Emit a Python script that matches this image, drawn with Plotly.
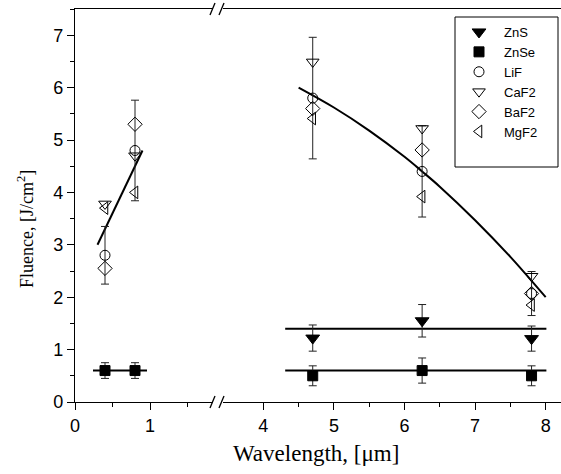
import plotly.graph_objects as go

# ---- data ----
wl_vis = [0.4, 0.8]
wl_ir = [4.7, 6.25, 7.8]

zns_ir = [1.22, 1.55, 1.21]
zns_ir_err = [0.25, 0.31, 0.24]

znse_vis = [0.6, 0.6]
znse_vis_err = [0.15, 0.15]
znse_ir = [0.5, 0.6, 0.5]
znse_ir_err = [0.19, 0.24, 0.19]

lif_vis = [2.8, 4.8]
lif_vis_err = [0.55, 0.96]
lif_ir = [5.8, 4.4, 2.07]
lif_ir_err = [1.16, 0.87, 0.42]

caf2_vis = [3.78, 4.7]
caf2_ir = [6.49, 5.22, 2.40]

baf2_vis = [2.55, 5.3]
baf2_ir = [5.6, 4.81, 2.07]

mgf2_vis = [3.7, 4.0]
mgf2_ir = [5.41, 3.92, 1.85]

# fit lines
fit_vis_x = [0.3, 0.9]
fit_vis_y = [3.0, 4.8]
fit_ir_x = [4.5, 5.0, 5.5, 6.0, 6.25, 6.5, 7.0, 7.5, 8.0]
fit_ir_y = [6.0, 5.62, 5.18, 4.68, 4.4, 4.11, 3.47, 2.77, 2.0]
znse_fit_vis_x = [0.24, 0.96]
znse_fit_vis_y = [0.6, 0.6]
znse_fit_ir_x = [4.31, 8.01]
znse_fit_ir_y = [0.6, 0.6]
zns_fit_ir_x = [4.31, 8.01]
zns_fit_ir_y = [1.4, 1.4]

x_vis_ticks = [0, 1]
x_vis_minor = [0.5, 1.5]
x_ir_ticks = [4, 5, 6, 7, 8]
x_ir_minor = [4.5, 5.5, 6.5, 7.5]

fig = go.Figure()

for xs, ys, xa in [(fit_vis_x, fit_vis_y, "x"), (znse_fit_vis_x, znse_fit_vis_y, "x"),
                   (fit_ir_x, fit_ir_y, "x2"), (znse_fit_ir_x, znse_fit_ir_y, "x2"),
                   (zns_fit_ir_x, zns_fit_ir_y, "x2")]:
    fig.add_trace(go.Scatter(x=xs, y=ys, mode="lines", line=dict(color="black", width=2, shape="spline"),
                             xaxis=xa, yaxis="y", showlegend=False, hoverinfo="skip"))

err_style = dict(type="data", color="#222", thickness=1, width=4)


def add_series(name, symbol, size, vis, ir, vis_err=None, ir_err=None, filled=False):
    mk = dict(symbol=symbol, size=size,
              color="black" if filled else "rgba(0,0,0,0)",
              line=dict(color="black", width=1))
    first = True
    if vis is not None:
        fig.add_trace(go.Scatter(
            x=wl_vis, y=vis, mode="markers", name=name, marker=mk, xaxis="x", yaxis="y",
            legendgroup=name, showlegend=first,
            error_y=dict(array=vis_err, **err_style) if vis_err else None))
        first = False
    fig.add_trace(go.Scatter(
        x=wl_ir, y=ir, mode="markers", name=name, marker=mk, xaxis="x2", yaxis="y",
        legendgroup=name, showlegend=first,
        error_y=dict(array=ir_err, **err_style) if ir_err else None))


add_series("ZnS", "triangle-down", 12, None, zns_ir, None, zns_ir_err, filled=True)
add_series("ZnSe", "square", 10, znse_vis, znse_ir, znse_vis_err, znse_ir_err, filled=True)
add_series("LiF", "circle", 10, lif_vis, lif_ir, lif_vis_err, lif_ir_err)
add_series("CaF2", "triangle-down", 11, caf2_vis, caf2_ir)
add_series("BaF2", "diamond", 11, baf2_vis, baf2_ir)
add_series("MgF2", "triangle-left", 11, mgf2_vis, mgf2_ir)

tickfont = dict(family="Liberation Sans, Arial", size=18, color="black")
axis_common = dict(showline=True, linecolor="black", linewidth=1.3, mirror=True,
                   ticks="outside", ticklen=7, tickwidth=1.2, tickcolor="black",
                   showgrid=False, zeroline=False, tickfont=tickfont, automargin=False)
top_common = dict(overlaying=None, side="top", anchor="y", showline=False, ticks="inside",
                  ticklen=4, tickwidth=1, tickcolor="black", showticklabels=False,
                  showgrid=False, zeroline=False, automargin=False)

L0, W = 75, 486
left_end, right_start = 213, 223
dom_left = [0, (left_end - L0) / W]
dom_right = [(right_start - L0) / W, 1]
rng_left = [0, (left_end - L0) / 75.0]
rng_right = [3.429, 8.217]

fig.update_layout(
    width=561, height=474,
    margin=dict(l=L0, r=561 - L0 - W, t=9, b=72),
    plot_bgcolor="white", paper_bgcolor="white",
    xaxis=dict(domain=dom_left, range=rng_left, tickvals=x_vis_ticks, anchor="y",
               minor=dict(tickvals=x_vis_minor, ticks="outside", ticklen=4, tickcolor="black", tickwidth=1),
               **axis_common),
    xaxis2=dict(domain=dom_right, range=rng_right, tickvals=x_ir_ticks, anchor="y",
                minor=dict(tickvals=x_ir_minor, ticks="outside", ticklen=4, tickcolor="black", tickwidth=1),
                **axis_common),
    xaxis3=dict(domain=dom_left, range=rng_left, tickvals=x_vis_ticks + x_vis_minor,
                **{**top_common, "overlaying": "x"}),
    xaxis4=dict(domain=dom_right, range=rng_right, tickvals=x_ir_ticks + x_ir_minor,
                **{**top_common, "overlaying": "x2"}),
    yaxis=dict(range=[0, 7.5], dtick=1, tick0=0,
               minor=dict(dtick=0.5, ticks="outside", ticklen=4, tickcolor="black", tickwidth=1),
               **{**axis_common, "mirror": False}),
    legend=dict(x=(454 - L0) / W, xanchor="left", y=(402 - 17) / 393, yanchor="top",
                borderwidth=0, bgcolor="rgba(0,0,0,0)", itemwidth=40,
                font=dict(family="Liberation Sans, Arial", size=13, color="black"),
                tracegroupgap=0),
    showlegend=True,
)

# legend frame
H = 393.0
fig.add_shape(type="rect", xref="paper", yref="paper", layer="below",
              x0=(455 - L0) / W, x1=(558 - L0) / W, y0=(402 - 167) / H, y1=(402 - 17) / H,
              line=dict(color="black", width=1), fillcolor="white")

title_font = dict(family="Liberation Serif, Times New Roman", size=23, color="black")
fig.add_annotation(text="Wavelength, [μm]", xref="paper", yref="paper",
                   x=(316 - L0) / W, y=-(453 - 402) / H, showarrow=False,
                   xanchor="center", yanchor="middle", font=title_font)
fig.add_annotation(text="Fluence, [J/cm<sup>2</sup>]", xref="paper", yref="paper",
                   x=(25 - L0) / W, y=(402 - 229) / H, showarrow=False, textangle=-90,
                   xanchor="center", yanchor="middle",
                   font=dict(family="Liberation Serif, Times New Roman", size=18, color="black"))

# axis break marks
for ypx in (9, 402):
    yc = (402 - ypx) / H
    for xc in (212.5, 221.5):
        fig.add_shape(type="line", xref="paper", yref="paper",
                      x0=(xc - 2.5 - L0) / W, x1=(xc + 2.5 - L0) / W,
                      y0=yc - 6 / H, y1=yc + 6 / H,
                      line=dict(color="black", width=1.3))

fig.write_html("out.html", config={"displayModeBar": False},
               post_script="document.body.style.margin='0';")
